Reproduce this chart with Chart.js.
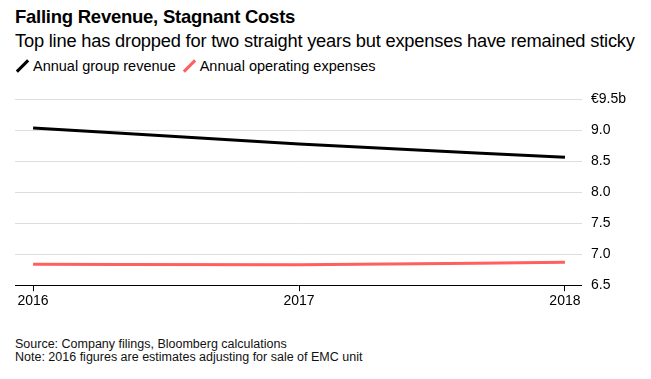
<!DOCTYPE html>
<html><head><meta charset="utf-8">
<script src="https://cdn.jsdelivr.net/npm/chart.js@4"></script>
<style>
body{margin:0;background:#fff;font-family:"Liberation Sans",Arial,sans-serif;color:#000;}
#wrap{position:relative;width:651px;height:379px;overflow:hidden;}
.t{position:absolute;left:15px;white-space:nowrap;}
#title{top:6px;font-size:18.5px;font-weight:bold;letter-spacing:-0.25px;}
#sub{top:30px;font-size:18.3px;letter-spacing:-0.2px;}
#legend{top:58px;font-size:14.5px;}
.li{display:inline-block;margin-right:6px;}
.ic{display:inline-block;width:3px;height:16px;transform:rotate(45deg);margin:0 9px -3px 6px;}
#foot{top:338px;font-size:12.5px;line-height:13px;color:#111;}
#c{position:absolute;left:0;top:82px;}
</style></head>
<body><div id="wrap">
<div class="t" id="title">Falling Revenue, Stagnant Costs</div>
<div class="t" id="sub">Top line has dropped for two straight years but expenses have remained sticky</div>
<div class="t" id="legend"></div>
<canvas id="c" width="651" height="230"></canvas>
<div class="t" id="foot">Source: Company filings, Bloomberg calculations<br>Note: 2016 figures are estimates adjusting for sale of EMC unit</div>
</div>
<script>
const years = [2016, 2017, 2018];
const revenue = [9.04, 8.78, 8.565];
const expenses = [6.84, 6.83, 6.87];
const yTicks = [6.5, 7.0, 7.5, 8.0, 8.5, 9.0, 9.5];
const seriesNames = ["Annual group revenue", "Annual operating expenses"];
const seriesColors = ["#000000", "#ff5f5f"];

const lg = document.getElementById('legend');
seriesNames.forEach((n,i)=>{
  const s=document.createElement('span');s.className='li';
  s.innerHTML='<span class="ic" style="background:'+seriesColors[i]+'"></span>'+n;
  lg.appendChild(s);
});

const mk = (vals)=>years.map((y,i)=>({x:y,y:vals[i]}));
new Chart(document.getElementById('c'),{
  type:'line',
  data:{datasets:[
    {label:seriesNames[0],data:mk(revenue),borderColor:seriesColors[0],borderWidth:3,pointRadius:0,cubicInterpolationMode:'monotone'},
    {label:seriesNames[1],data:mk(expenses),borderColor:seriesColors[1],borderWidth:3,pointRadius:0,cubicInterpolationMode:'monotone'}
  ]},
  options:{
    responsive:false,animation:false,
    layout:{padding:{top:9,left:15,right:16,bottom:0}},
    plugins:{legend:{display:false},tooltip:{enabled:false}},
    scales:{
      x:{type:'linear',min:2015.932,max:2018.064,
        afterBuildTicks:(ax)=>{ax.ticks=years.map(v=>({value:v}));},
        ticks:{callback:v=>String(v),color:'#000',font:{family:'Liberation Sans',size:14},padding:2,maxRotation:0},
        grid:{drawOnChartArea:false,color:'#000',tickLength:6,tickWidth:1},
        border:{display:true,color:'#000',width:1}
      },
      y:{position:'right',min:6.5,max:9.5,
        afterBuildTicks:(ax)=>{ax.ticks=yTicks.map(v=>({value:v}));},
        ticks:{callback:v=>v===9.5?'€9.5b':v.toFixed(1),color:'#000',font:{family:'Liberation Sans',size:14},padding:9},
        grid:{color:'#dddddd',lineWidth:1,drawTicks:false},
        border:{display:false}
      }
    }
  }
});
</script>
</body></html>
